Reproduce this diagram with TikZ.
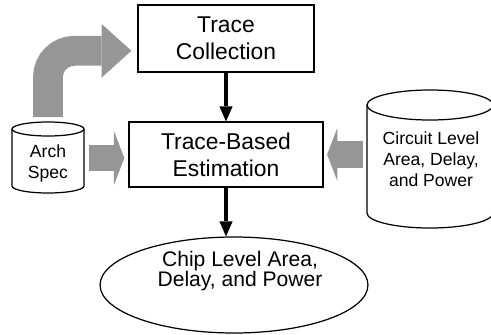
\documentclass[tikz,border=0pt]{standalone}
\usepackage{fontspec}
\setmainfont{Liberation Sans}
\usetikzlibrary{arrows.meta,shapes.geometric}
\definecolor{arrowgray}{RGB}{150,150,150}
\begin{document}
\begin{tikzpicture}[x=0.02cm, y=-0.02cm,
    procbox/.style={draw, line width=0.7pt, align=center, font=\fontsize{13}{15.5}\selectfont},
    cyltext/.style={align=center, font=\fontsize{10}{12}\selectfont},
    cylline/.style={line width=0.7pt},
    flowarrow/.style={line width=2.3pt, -{Triangle[length=8.5pt, width=7.5pt, line width=0pt]}},
    grayarrow/.style={arrowgray, line width=15.3pt, -{Triangle[length=5.9pt, width=30.6pt, line width=0pt]}}]
    \useasboundingbox (0,0) rectangle (491,335);

    % processing boxes
    \node[procbox, minimum width=3.52cm, minimum height=1.34cm] (collect) at (226,38.5) {Trace\\Collection};
    \node[procbox, minimum width=3.88cm, minimum height=1.3cm] (estim) at (226,154.5) {Trace-Based\\Estimation};

    % result
    \node[draw, ellipse, line width=0.7pt, minimum width=5.36cm, minimum height=1.92cm] (chip) at (234,285) {};
    \node[align=center, font=\fontsize{12}{11.6}\selectfont] (chiptext) at (240,271) {Chip Level Area,\\Delay, and Power};

    % arch spec cylinder
    \draw[cylline] (12,129) -- (12,186) arc[start angle=180, end angle=0, x radius=36, y radius=7] -- (84,129);
    \draw[cylline] (48,129) ellipse [x radius=36, y radius=7];
    \node[cyltext] (arch) at (48,163) {Arch\\Spec};
    \coordinate (archtop) at (48,122);
    \coordinate (archside) at (84,158);

    % circuit level cylinder
    \draw[cylline] (367,105) -- (367,213) arc[start angle=180, end angle=0, x radius=63, y radius=15] -- (493,105);
    \draw[cylline] (430,105) ellipse [x radius=63, y radius=15];
    \node[cyltext] (circuit) at (431,159) {Circuit Level\\Area, Delay,\\and Power};
    \coordinate (circside) at (367,154.5);

    % gray inputs
    \draw[grayarrow, line width=17pt, rounded corners=15pt, shorten <=2.8pt, shorten >=3.4pt,
        -{Triangle[length=17pt, width=30.6pt, line width=0pt]}] (archtop) |- ([yshift=-7pt]collect.west);
    \draw[grayarrow, shorten <=2.8pt, shorten >=2.3pt] (archside) -- (archside -| estim.west);
    \draw[grayarrow, shorten <=2.3pt, shorten >=2pt] (circside) -- (estim.east);

    % flow
    \draw[flowarrow] (collect.south) -- (estim.north);
    \draw[flowarrow] (estim.south) -- (estim.south |- chip.north);
\end{tikzpicture}
\end{document}
